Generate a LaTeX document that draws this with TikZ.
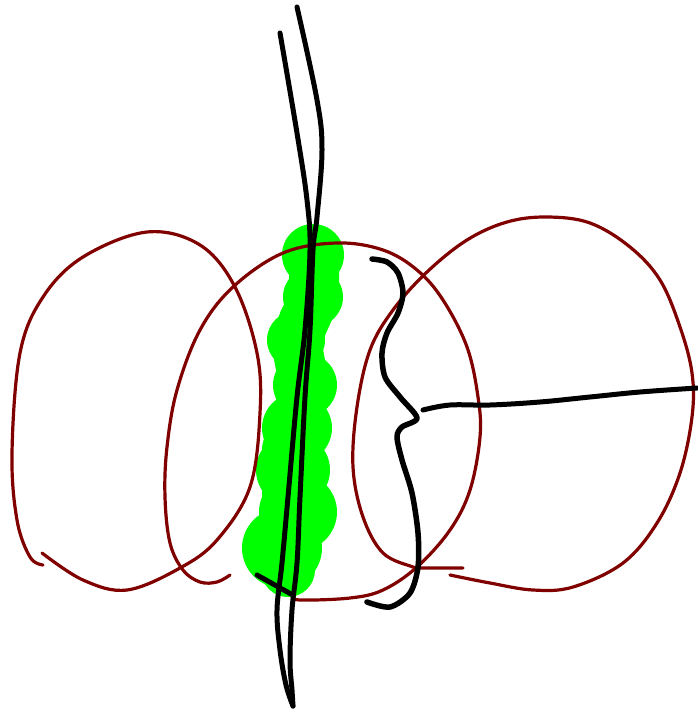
\documentclass[tikz,border=0pt]{standalone}
\definecolor{loopred}{HTML}{800000}
\definecolor{blobgreen}{HTML}{00FF00}
\tikzset{
  redloop/.style={draw=loopred, line width=3.2pt, line cap=round, line join=round},
  inkline/.style={draw=black, line width=5pt, line cap=round, line join=round},
  blob/.style={fill=blobgreen, draw=none}
}
\begin{document}
\begin{tikzpicture}[x=1pt,y=-1pt]
\useasboundingbox (0,0) rectangle (698,712);
% green blob: thick backbone plus bumps
\draw[blobgreen, line width=50pt, line cap=round, line join=round] plot[smooth, tension=0.6] coordinates {(313,252) (313,297) (298,340) (303,385) (296,430) (293,470) (298,512) (285,548) (288,570)};
\foreach \cx/\cy/\r in {313/255/31, 313/297/30, 296/340/29, 305/385/32, 297/428/35, 293/470/37, 298/512/39, 282/548/40, 288/570/27, 303/320/24, 300/360/24, 292/450/30, 294/492/32}
  \fill[blob] (\cx,\cy) circle[radius=\r];
% left loop
\draw[redloop] plot[smooth, tension=0.6] coordinates {(43,565) (30,557) (17,520) (12,453) (20,353) (43,297) (83,257) (147,232) (200,245) (235,287) (257,353) (260,413) (250,487) (217,540) (180,568) (127,590) (83,580) (42,553)};
% middle loop
\draw[redloop] plot[smooth, tension=0.6] coordinates {(230,575) (217,582) (200,582) (183,570) (170,543) (165,497) (167,447) (177,390) (200,330) (233,287) (283,253) (337,243) (383,250) (417,270) (443,300) (467,347) (478,397) (480,437) (470,490) (450,530) (417,567) (383,590) (350,598) (300,600) (292,596)};
% right loop
\draw[redloop] plot[smooth, tension=0.6] coordinates {(463,568) (420,568) (413,567) (383,553) (363,517) (353,467) (357,407) (370,350) (393,310) (427,272) (467,240) (507,222) (547,217) (590,223) (630,247) (660,280) (680,327) (692,373) (692,417) (680,473) (657,523) (623,563) (573,587) (533,590) (490,583) (450,575)};
% vertical lines
\draw[inkline] plot[smooth, tension=0.6] coordinates {(280,33) (297,133) (307,200) (310,250) (305,330) (297,397) (288,497) (282,563) (277,610) (280,650) (286,685) (293,706)};
\draw[inkline] plot[smooth, tension=0.6] coordinates {(297,7) (317,100) (322,150) (317,217) (313,250) (310,330) (305,397) (300,497) (297,563) (292,610) (290,660) (292,690) (293,706)};
% short black tick
\draw[inkline] (257,575) -- (291,594);
% bracket
\draw[inkline, line width=5.5pt] plot[smooth, tension=0.5] coordinates {(372,259) (387,262) (398,273) (403,293) (398,313) (387,333) (382,353) (385,377) (400,397) (417,418) (402,427) (397,437) (402,460) (412,493) (418,533) (418,567) (410,593) (390,607) (367,602)};
% horizontal line
\draw[inkline] plot[smooth, tension=0.6] coordinates {(423,410) (450,405) (490,405) (540,402) (590,397) (640,392) (697,388)};
\end{tikzpicture}
\end{document}
